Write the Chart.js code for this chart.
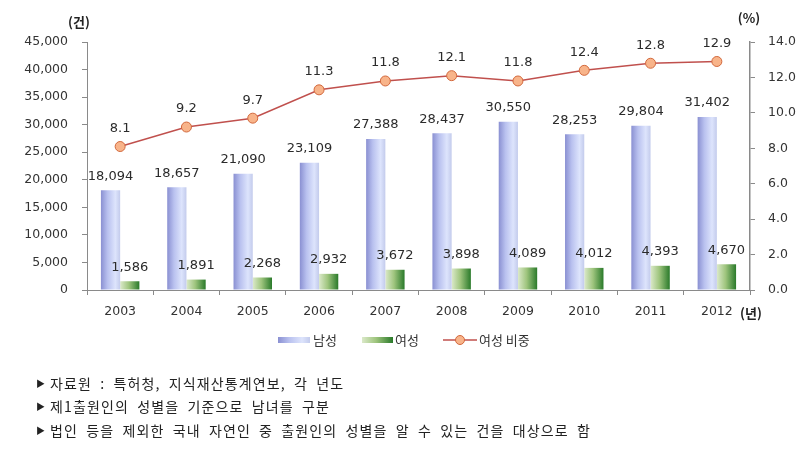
<!DOCTYPE html>
<html><head><meta charset="utf-8">
<script src="https://cdn.jsdelivr.net/npm/chart.js@4"></script>
<style>
html,body{margin:0;padding:0;background:#fff;}
#wrap{position:relative;width:808px;height:454px;overflow:hidden;}
canvas{position:absolute;left:0;top:0;}
.note{position:absolute;left:36px;font-family:"Noto Sans CJK KR";font-size:14px;color:#222;white-space:nowrap;letter-spacing:1.14px;word-spacing:3.9px;line-height:18px;}
.note b{display:inline-block;width:14px;font-size:9px;font-weight:normal;vertical-align:2px;letter-spacing:0;word-spacing:0;}
</style></head><body>
<div id="wrap"><canvas id="c" width="808" height="454"></canvas>
<div class="note" style="top:374px"><b>▶</b>자료원 : 특허청, 지식재산통계연보, 각 년도</div>
<div class="note" style="top:397px"><b>▶</b>제1출원인의 성별을 기준으로 남녀를 구분</div>
<div class="note" style="top:421px"><b>▶</b>법인 등을 제외한 국내 자연인 중 출원인의 성별을 알 수 있는 건을 대상으로 함</div>
</div>
<script>
const years = ['2003','2004','2005','2006','2007','2008','2009','2010','2011','2012'];
const maleCounts = [18094,18657,21090,23109,27388,28437,30550,28253,29804,31402];
const femaleCounts = [1586,1891,2268,2932,3672,3898,4089,4012,4393,4670];
const femaleShare = [8.1,9.2,9.7,11.3,11.8,12.1,11.8,12.4,12.8,12.9];
const seriesNames = ['남성','여성','여성 비중'];
const countAxis = {min:0, max:45000, step:5000};
const shareAxis = {min:0, max:14, step:2};

const catPct = 0.58;
const blueStops = [[0,'#8a90d2'],[0.35,'#b9c1ef'],[0.75,'#dde4fc'],[1,'#c3cbec']];
const greenStops = [[0,'#dbe9c9'],[0.45,'#9fc57e'],[1,'#2a7a2a']];

function barGrad(stops, side){
  return function(ctx){
    const ch = ctx.chart, xs = ch.scales && ch.scales.x;
    if (!xs || ctx.dataIndex === undefined) return stops[1][1];
    const cw = xs.width / years.length;
    const bw = cw * catPct / 2;
    const cx = xs.getPixelForValue(ctx.dataIndex);
    const x0 = side === 0 ? cx - bw : cx;
    if (!isFinite(x0) || !isFinite(bw) || bw <= 0) return stops[1][1];
    const g = ch.ctx.createLinearGradient(x0, 0, x0 + bw, 0);
    stops.forEach(s => g.addColorStop(s[0], s[1]));
    return g;
  };
}
function grad(c, x0, x1, stops){
  const g = c.createLinearGradient(x0,0,x1,0);
  stops.forEach(s => g.addColorStop(s[0], s[1]));
  return g;
}

const extras = {
  id:'extras',
  afterDatasetsDraw(chart){
    const c = chart.ctx;
    c.save();
    c.font = '13px "DejaVu Sans"';
    c.fillStyle = '#2b2b2b';
    c.textAlign = 'center';
    c.textBaseline = 'middle';
    chart.data.datasets.forEach((ds,i)=>{
      const meta = chart.getDatasetMeta(i);
      meta.data.forEach((el,j)=>{
        const v = ds.data[j];
        const isLine = ds.type === 'line';
        const txt = isLine ? v.toFixed(1) : v.toLocaleString('en-US');
        c.fillText(txt, el.x, el.y - (isLine ? 18 : 14));
      });
    });
    c.restore();
  },
  afterDraw(chart){
    const c = chart.ctx;
    c.save();
    c.fillStyle = '#222';
    c.font = 'bold 13px "Noto Sans CJK KR"';
    c.textAlign = 'center';
    c.textBaseline = 'middle';
    c.fillText('(건)', 79, 22);
    c.fillText('(%)', 749, 18);
    c.fillText('(년)', 751, 313);
    const ly = 340;
    c.fillStyle = grad(c, 278, 310, blueStops);
    c.fillRect(278, ly-3, 32, 6);
    c.fillStyle = grad(c, 362, 393, greenStops);
    c.fillRect(362, ly-3, 31, 6);
    c.strokeStyle = '#c0504d'; c.lineWidth = 1.5;
    c.beginPath(); c.moveTo(443, ly); c.lineTo(477, ly); c.stroke();
    c.beginPath(); c.arc(460, ly, 4.5, 0, Math.PI*2);
    c.fillStyle = '#f8b48a'; c.fill();
    c.strokeStyle = '#d2683c'; c.lineWidth = 1; c.stroke();
    c.fillStyle = '#333';
    c.font = '13px "Noto Sans CJK KR"';
    c.textAlign = 'left';
    c.fillText(seriesNames[0], 313, ly);
    c.fillText(seriesNames[1], 395, ly);
    c.fillText(seriesNames[2], 479, ly);
    c.restore();
  }
};

const tickFont = {family:'DejaVu Sans', size:12.5};
new Chart(document.getElementById('c'), {
  data: {
    labels: years,
    datasets: [
      {type:'line', label:seriesNames[2], data:femaleShare, yAxisID:'y1', order:0,
       borderColor:'#c0504d', borderWidth:1.5, pointRadius:5, pointBackgroundColor:'#f8b48a',
       pointBorderColor:'#d2683c', pointBorderWidth:1, tension:0},
      {type:'bar', label:seriesNames[0], data:maleCounts, yAxisID:'y', order:1,
       backgroundColor:barGrad(blueStops,0), categoryPercentage:catPct, barPercentage:1},
      {type:'bar', label:seriesNames[1], data:femaleCounts, yAxisID:'y', order:1,
       backgroundColor:barGrad(greenStops,1), categoryPercentage:catPct, barPercentage:1}
    ]
  },
  options: {
    responsive:false, animation:false, devicePixelRatio:1,
    layout:{padding:{top:42,left:0,right:0,bottom:0}},
    plugins:{legend:{display:false}, tooltip:{enabled:false}},
    scales:{
      x:{
        grid:{display:true, drawOnChartArea:false, drawTicks:true, tickLength:5, color:'#8a8a8a', offset:true},
        border:{color:'#8a8a8a'},
        ticks:{color:'#333', font:tickFont, padding:9},
        afterFit(s){ s.height = 164; }
      },
      y:{
        position:'left', min:countAxis.min, max:countAxis.max,
        grid:{drawOnChartArea:false, tickLength:5, color:'#8a8a8a'},
        border:{color:'#8a8a8a'},
        ticks:{stepSize:countAxis.step, color:'#333', font:tickFont, padding:14,
               callback:v=>v.toLocaleString('en-US')},
        afterFit(s){ s.width = 87; }
      },
      y1:{
        position:'right', min:shareAxis.min, max:shareAxis.max,
        grid:{drawOnChartArea:false, tickLength:5, color:'#8a8a8a'},
        border:{color:'#8a8a8a', width:1.5},
        ticks:{stepSize:shareAxis.step, color:'#333', font:tickFont, padding:13,
               callback:v=>v.toFixed(1)},
        afterFit(s){ s.width = 58; }
      }
    }
  },
  plugins:[extras]
});
</script>
</body></html>
